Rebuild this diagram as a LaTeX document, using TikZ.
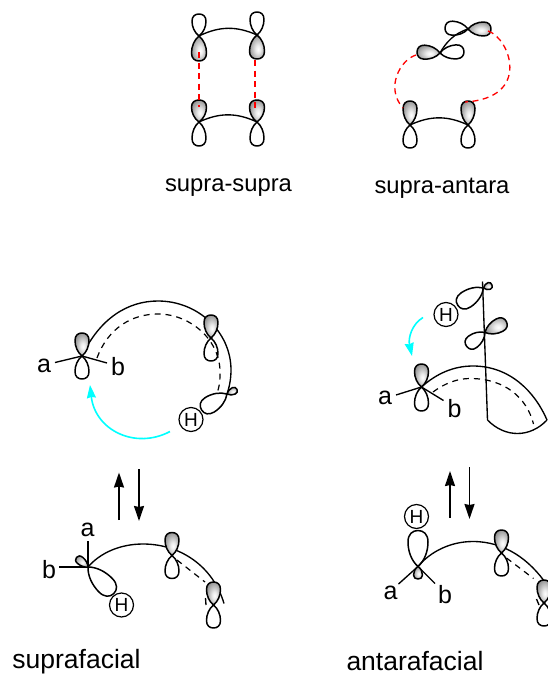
\documentclass[tikz,border=0pt]{standalone}
\usepackage{fontspec}
\setmainfont{Liberation Sans}
\usetikzlibrary{arrows.meta}
\definecolor{mcyan}{rgb}{0, 1, 1}
\pgfdeclareradialshading{lobeball}{\pgfpoint{4bp}{-5bp}}{color(0bp)=(white); color(8bp)=(white!92!black); color(30bp)=(black!45); color(50bp)=(black!75)}
\tikzset{bond/.style = {line width=1.35pt}}
\tikzset{orbline/.style = {line width=1.5pt, line join=round}}
\tikzset{hidden/.style = {line width=1.2pt, dash pattern=on 6pt off 5pt}}
\tikzset{overlap/.style = {line width=1.3pt, red, dash pattern=on 6pt off 4.5pt}}
\tikzset{cyanarrow/.style = {line width=1.6pt, mcyan, -{Stealth[length=13pt,width=9pt,inset=1pt]}}}
\tikzset{eqarrow/.style = {line width=1.6pt, -{Stealth[length=15pt,width=10pt,inset=1pt]}}}
\tikzset{txt/.style = {inner sep=0, font=\fontsize{25}{29}\selectfont}}
\tikzset{caption/.style = {inner sep=0, font=\fontsize{23.8}{28}\selectfont}}
\tikzset{title/.style = {inner sep=0, font=\fontsize{26.5}{30}\selectfont}}
\tikzset{hydrogen/.style = {draw, circle, line width=1.2pt, inner sep=0, minimum size=24pt,
                            font=\fontsize{19}{21}\selectfont}}
\tikzset{
  pics/white lobe/.style 2 args = {code={
    \draw[orbline] (0,0) .. controls ({-.65*#2},{-.16*#1}) and (-#2,{-.42*#1}) .. (-#2,{-.68*#1})
      .. controls (-#2,{-.9*#1}) and ({-.55*#2},-#1) .. (0,-#1)
      .. controls ({.55*#2},-#1) and (#2,{-.9*#1}) .. (#2,{-.68*#1})
      .. controls (#2,{-.42*#1}) and ({.65*#2},{-.16*#1}) .. (0,0) -- cycle;}},
  pics/dark lobe/.style 2 args = {code={
    \draw[orbline,shading=lobeball] (0,0) .. controls ({-.65*#2},{-.16*#1}) and (-#2,{-.42*#1}) .. (-#2,{-.68*#1})
      .. controls (-#2,{-.9*#1}) and ({-.55*#2},-#1) .. (0,-#1)
      .. controls ({.55*#2},-#1) and (#2,{-.9*#1}) .. (#2,{-.68*#1})
      .. controls (#2,{-.42*#1}) and ({.65*#2},{-.16*#1}) .. (0,0) -- cycle;}},
}
\begin{document}
\begin{tikzpicture}[x=1pt,y=-1pt]
  \useasboundingbox (0,0) rectangle (547,675);
  % supra-supra
  \coordinate (ss1) at (199,36);
  \coordinate (ss2) at (257,35);
  \coordinate (ss3) at (199,122);
  \coordinate (ss4) at (257,122);
  \draw[bond] (ss1) to[bend left=25] (ss2);
  \draw[bond] (ss3) to[bend left=25] (ss4);
  \pic at (ss1) {white lobe={22}{7}};
  \pic[rotate=180] at (ss1) {dark lobe={25}{7.5}};
  \pic at (ss2) {white lobe={23}{7}};
  \pic[rotate=180] at (ss2) {dark lobe={24}{7.5}};
  \pic at (ss3) {dark lobe={22}{7.5}};
  \pic[rotate=180] at (ss3) {white lobe={24}{7}};
  \pic at (ss4) {dark lobe={22}{7.5}};
  \pic[rotate=180] at (ss4) {white lobe={24}{7}};
  \coordinate (ss5) at (199,52);
  \coordinate (ss6) at (199,107);
  \coordinate (ss7) at (255,60);
  \coordinate (ss8) at (255,108);
  \draw[overlap] (ss5) -- (ss6);
  \draw[overlap] (ss7) -- (ss8);
  \node[caption] (ssname) at (228.5,188) {supra-supra};
  % supra-antara
  \coordinate (sa1) at (410,125);
  \coordinate (sa2) at (468,125);
  \coordinate (sa3) at (440,53);
  \coordinate (sa4) at (468,29);
  \draw[bond] (sa1) to[bend left=25] (sa2);
  \draw[bond] (sa3) .. controls (446,42) and (455,33) .. (sa4);
  \pic at (sa1) {dark lobe={24}{7}};
  \pic[rotate=180] at (sa1) {white lobe={23}{7}};
  \pic at (sa2) {dark lobe={24}{7}};
  \pic[rotate=180] at (sa2) {white lobe={23}{7}};
  \pic[rotate=87] at (sa3) {dark lobe={23}{7}};
  \pic[rotate=-86] at (sa3) {white lobe={24}{7}};
  \pic[rotate=-90] at (sa4) {dark lobe={23}{7}};
  \pic[rotate=87] at (sa4) {white lobe={23}{7}};
  \coordinate (sa5) at (416,55);
  \coordinate (sa6) at (403,108);
  \coordinate (sa7) at (488,31);
  \coordinate (sa8) at (465,102);
  \draw[overlap] (sa5) .. controls (400,60) and (385,88) .. (sa6);
  \draw[overlap] (sa7) .. controls (510,38) and (532,98) .. (sa8);
  \node[caption] (saname) at (442,188) {supra-antara};
  % suprafacial, top
  \coordinate (l1) at (82,356);
  \coordinate (l2) at (211,338);
  \coordinate (l3) at (227,394);
  \coordinate (l4) at (158,301);
  \coordinate (l5) at (97,358);
  \coordinate (l6) at (158,314);
  \coordinate (l7) at (217,393);
  \node[txt] (la) at (44,366) {a};
  \node[txt] (lb) at (118,367) {b};
  \coordinate (la1) at (55,362.5);
  \coordinate (lb1) at (107,363);
  \draw[bond] (l1) .. controls (100,318) and (128,301) .. (l4)
    .. controls (198,301) and (231,332) .. (231,370) .. controls (231,380) and (229,388) .. (l3);
  \draw[hidden] (l5) .. controls (108,328) and (132,314) .. (l6)
    .. controls (190,314) and (222,340) .. (220,376) .. controls (220,382) and (219,388) .. (l7);
  \draw[bond] (la1) -- (l1);
  \draw[bond] (l1) -- (lb1);
  \pic at (l1) {dark lobe={23}{7}};
  \pic[rotate=180] at (l1) {white lobe={23}{7}};
  \pic at (l2) {dark lobe={23}{7}};
  \pic[rotate=180] at (l2) {white lobe={23}{7}};
  \pic[rotate=-65] at (l3) {dark lobe={11}{3.5}};
  \pic[rotate=122] at (l3) {white lobe={30}{8.5}};
  \node[hydrogen] (lh) at (191,419.5) {H};
  \coordinate (lc1) at (170,431.5);
  \coordinate (lc2) at (90,385);
  \draw[cyanarrow] (lc1) .. controls (135,450) and (95,430) .. (lc2);
  % suprafacial, bottom
  \draw[eqarrow] (119,520) -- (119,472.5);
  \draw[eqarrow] (139,469) -- (139,521);
  \coordinate (p1) at (88,567);
  \coordinate (p2) at (172,555.5);
  \coordinate (p3) at (213.5,605);
  \coordinate (p4) at (143,544);
  \coordinate (p5) at (224,603.5);
  \coordinate (p6) at (177,560);
  \coordinate (p7) at (205,582);
  \coordinate (p8) at (205.5,598);
  \coordinate (p9) at (206,605);
  \coordinate (pa1) at (88,541);
  \coordinate (pb1) at (59,567);
  \node[txt] (pa) at (87.5,530) {a};
  \node[txt] (pb) at (49,570) {b};
  \draw[bond] (p1) .. controls (100,553) and (120,544) .. (p4)
    .. controls (180,544) and (213,566) .. (p5);
  \draw[hidden] (p6) -- (p7);
  \draw[bond] (p8) -- (p9);
  \draw[bond] (pa1) -- (p1);
  \draw[bond] (pb1) -- (p1);
  \pic[rotate=50] at (p1) {dark lobe={15}{4}};
  \pic[rotate=-136] at (p1) {white lobe={37}{9.5}};
  \pic at (p2) {dark lobe={23}{7}};
  \pic[rotate=180] at (p2) {white lobe={23}{7}};
  \pic at (p3) {dark lobe={23}{7}};
  \pic[rotate=180] at (p3) {white lobe={23}{7}};
  \node[hydrogen] (ph) at (121.5,605) {H};
  \node[title] (pname) at (76.5,662) {suprafacial};
  % antarafacial, top
  \coordinate (s1) at (421.5,387);
  \coordinate (s2) at (483.5,288);
  \coordinate (s3) at (485,332.5);
  \coordinate (s4) at (482.5,281.5);
  \coordinate (s5) at (487.5,420);
  \coordinate (s6) at (473,366);
  \coordinate (s7) at (547,420);
  \coordinate (s8) at (433,392);
  \coordinate (s9) at (470,378.5);
  \coordinate (s10) at (533.5,424);
  \coordinate (sa9) at (396,395);
  \coordinate (sb9) at (443.5,400.5);
  \node[txt] (ra) at (385,397.5) {a};
  \node[txt] (rb) at (454.5,408.5) {b};
  \draw[bond] (s1) .. controls (436,374) and (453,366) .. (s6)
    .. controls (510,366) and (535,392) .. (s7);
  \draw[bond] (s5) .. controls (505,438) and (530,438) .. (s7);
  \draw[bond] (s4) -- (s5);
  \draw[hidden] (s8) .. controls (445,383) and (458,378.5) .. (s9)
    .. controls (505,378.5) and (527,398) .. (s10);
  \draw[bond] (sa9) -- (s1);
  \draw[bond] (s1) -- (sb9);
  \pic at (s1) {dark lobe={23}{7}};
  \pic[rotate=180] at (s1) {white lobe={24}{7}};
  \pic[rotate=-70] at (s2) {dark lobe={9}{3.5}};
  \pic[rotate=124] at (s2) {white lobe={31}{8.5}};
  \pic[rotate=-63] at (s3) {dark lobe={24}{7}};
  \pic[rotate=127] at (s3) {white lobe={23}{7}};
  \node[hydrogen] (rh) at (446,314.5) {H};
  \coordinate (rc1) at (423,317.5);
  \coordinate (rc2) at (412,356);
  \draw[cyanarrow] (rc1) .. controls (412,324) and (408,338) .. (rc2);
  % antarafacial, bottom
  \draw[eqarrow] (450,517.5) -- (450,471);
  \draw[eqarrow] (469.5,467) -- (469.5,519);
  \coordinate (v1) at (418,566.5);
  \coordinate (v2) at (501.5,553);
  \coordinate (v3) at (544,603);
  \coordinate (v4) at (473,541.5);
  \coordinate (v5) at (547,585);
  \coordinate (v6) at (506.5,558);
  \coordinate (v7) at (533.5,578.5);
  \coordinate (v8) at (536.5,599);
  \coordinate (v9) at (539,605);
  \coordinate (va1) at (398.5,584);
  \coordinate (vb1) at (435,583.5);
  \node[txt] (va) at (390.5,592.5) {a};
  \node[txt] (vb) at (445,595) {b};
  \draw[bond] (v1) .. controls (430,552) and (450,541.5) .. (v4)
    .. controls (505,541.5) and (530,560) .. (v5);
  \draw[hidden] (v6) -- (v7);
  \draw[bond] (v8) -- (v9);
  \draw[bond] (va1) -- (v1);
  \draw[bond] (vb1) -- (v1);
  \pic at (v1) {white lobe={36}{10}};
  \pic[rotate=180] at (v1) {dark lobe={12.5}{4.5}};
  \pic at (v2) {dark lobe={23}{7}};
  \pic[rotate=180] at (v2) {white lobe={23}{7}};
  \pic at (v3) {dark lobe={23}{7}};
  \pic[rotate=180] at (v3) {white lobe={23}{7}};
  \node[hydrogen] (vh) at (416.5,516.5) {H};
  \node[title] (vname) at (415,661) {antarafacial};
\end{tikzpicture}
\end{document}
